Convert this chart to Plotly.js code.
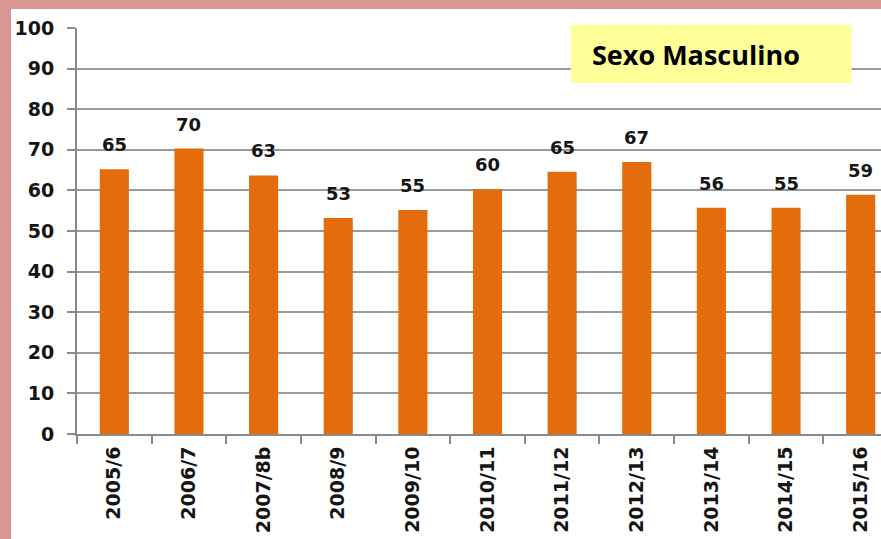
<!DOCTYPE html>
<html>
<head>
<meta charset="utf-8">
<script src="https://cdn.plot.ly/plotly-3.0.1.min.js"></script>
<style>
html,body{margin:0;padding:0;width:881px;height:539px;overflow:hidden;background:#DA9695;}
#chart{position:absolute;left:11px;top:9px;width:909px;height:530px;background:#fff;}
</style>
</head>
<body>
<div id="chart"></div>
<script>
var categories = ["2005/6","2006/7","2007/8b","2008/9","2009/10","2010/11","2011/12","2012/13","2013/14","2014/15","2015/16"];
var values = [65.2, 70.3, 63.7, 53.2, 55.2, 60.3, 64.6, 67.0, 55.7, 55.7, 58.9];
var labels = ["65","70","63","53","55","60","65","67","56","55","59"];
var yTicks = [0,10,20,30,40,50,60,70,80,90,100];
var chartTitle = "Sexo Masculino";

var tickFont = {family: "DejaVu Sans", size: 19, color: "#151515", weight: "bold"};

var trace = {
  type: "bar",
  x: categories,
  y: values,
  marker: {color: "#E46C0A", line: {width: 0}},
  hoverinfo: "x+y"
};

var annotations = categories.map(function(c, i){
  return {
    x: c, y: values[i], xref: "x", yref: "y",
    text: labels[i], showarrow: false,
    yanchor: "bottom", yshift: 12,
    font: {family: "DejaVu Sans", size: 18, color: "#151515", weight: "bold"}
  };
});
annotations.push({
  xref: "paper", yref: "paper", x: 0.6245, y: 0.9335,
  xanchor: "left", yanchor: "middle", showarrow: false,
  text: "<b>" + chartTitle + "</b>",
  font: {family: "Open Sans", size: 27, color: "#000"}
});

var layout = {
  width: 909, height: 530,
  margin: {l: 66, r: 21.6, t: 19, b: 105},
  paper_bgcolor: "#ffffff",
  plot_bgcolor: "#ffffff",
  showlegend: false,
  bargap: 0.61,
  xaxis: {
    type: "category",
    tickangle: -90,
    tickfont: tickFont,
    showline: true, linecolor: "#8a8a8a", linewidth: 2,
    ticks: "outside", tickson: "boundaries", ticklen: 8, tickcolor: "#8a8a8a", tickwidth: 2,
    showgrid: false,
    ticklabelstandoff: 3
  },
  yaxis: {
    range: [0, 100],
    tickvals: yTicks,
    ticktext: yTicks.map(String),
    tickfont: tickFont,
    showline: true, linecolor: "#8a8a8a", linewidth: 2,
    ticks: "outside", ticklen: 8, tickcolor: "#8a8a8a", tickwidth: 2,
    showgrid: true, gridcolor: "#9a9a9a", gridwidth: 2,
    zeroline: false,
    ticklabelstandoff: 9
  },
  shapes: [{
    type: "rect", xref: "paper", yref: "paper",
    x0: 0.6014, x1: 0.9435, y0: 0.8645, y1: 1.0074,
    fillcolor: "#FFFF99", line: {width: 0}, layer: "above"
  }],
  annotations: annotations
};

Plotly.newPlot("chart", [trace], layout, {displayModeBar: false, responsive: false});
</script>
</body>
</html>
